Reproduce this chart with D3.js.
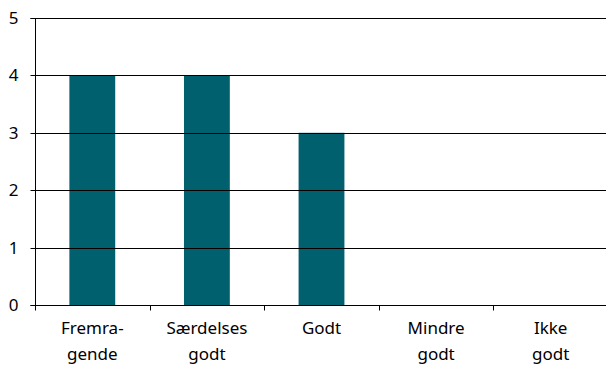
<!DOCTYPE html>
<html><head><meta charset="utf-8">
<script src="https://cdn.jsdelivr.net/npm/d3@7/dist/d3.min.js"></script>
<style>body{margin:0;background:#fff;} svg{display:block;}</style>
</head><body>
<svg id="c" width="606" height="365"></svg>
<script>
const categories = [["Fremra-","gende"],["Særdelses","godt"],["Godt"],["Mindre","godt"],["Ikke","godt"]];
const values = [4, 4, 3, 0, 0];
const yTicks = [0,1,2,3,4,5];

(function(){
const svg = d3.select("#c");
const mLeft = 35, mRight = 608, mTop = 18, mBottom = 305;
const x = d3.scaleBand().domain(d3.range(categories.length)).range([mLeft, mRight]).paddingInner(0.6).paddingOuter(0.3);
const xb = d3.scaleBand().domain(d3.range(categories.length)).range([mLeft, mRight]);
const y = d3.scaleLinear().domain([0,5]).range([mBottom, mTop]);
const font = "'Noto Sans', sans-serif";

svg.append("g").selectAll("rect").data(values).join("rect")
  .attr("x", (d,i)=>x(i)).attr("width", x.bandwidth())
  .attr("y", d=>y(d)).attr("height", d=>y(0)-y(d))
  .attr("fill", "#00606e");

svg.append("g").selectAll("line").data(yTicks.filter(t=>t>0)).join("line")
  .attr("x1", mLeft).attr("x2", mRight).attr("y1", d=>Math.round(y(d))+0.5).attr("y2", d=>Math.round(y(d))+0.5)
  .attr("stroke", "#000").attr("stroke-width", 1);

const ya = svg.append("g").attr("transform", `translate(${mLeft+0.5},0)`)
  .call(d3.axisLeft(y).tickValues(yTicks).tickSize(5).tickPadding(12).tickFormat(d3.format("d")));
ya.select(".domain").attr("d", `M-5,${Math.round(y(5))+0.5}H0V${Math.round(y(0))+0.5}H-5`);
ya.selectAll(".tick").attr("transform", d=>`translate(0,${Math.round(y(d))+0.5})`);
ya.selectAll("text").attr("font-family", font).attr("font-size", 17).attr("fill","#000");
ya.selectAll("line,path").attr("stroke","#000");

const xa = svg.append("g").attr("transform", `translate(0,${Math.round(mBottom)+0.5})`);
xa.append("line").attr("x1", mLeft).attr("x2", mRight).attr("stroke","#000");
xa.selectAll("line.t").data(d3.range(categories.length+1)).join("line").attr("class","t")
  .attr("x1", d=>Math.round(mLeft + d*xb.step())+0.5).attr("x2", d=>Math.round(mLeft + d*xb.step())+0.5)
  .attr("y1",0).attr("y2",5).attr("stroke","#000");
const lbl = xa.selectAll("text").data(categories).join("text")
  .attr("text-anchor","middle").attr("font-family", font).attr("font-size", 17).attr("fill","#000")
  .attr("transform",(d,i)=>`translate(${xb(i)+xb.bandwidth()/2},0)`);
lbl.selectAll("tspan").data(d=>d).join("tspan").attr("x",0).attr("y",(d,j)=>28+j*26).text(d=>d);
})();
</script>
</body></html>
